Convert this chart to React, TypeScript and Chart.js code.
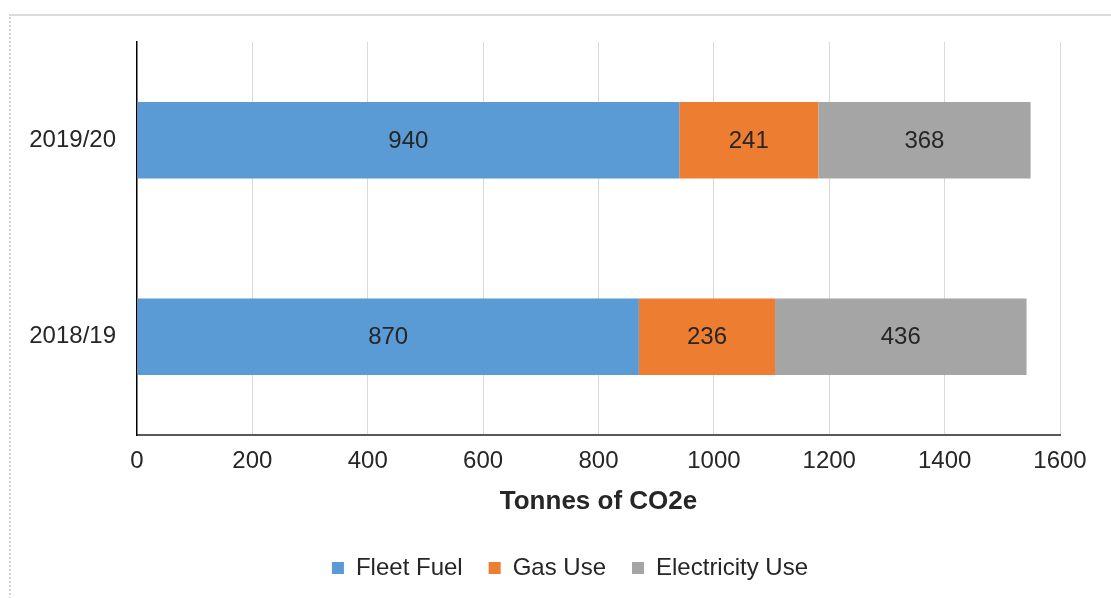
import React, { useEffect, useRef } from "react";
import { Chart, registerables } from "chart.js";

Chart.register(...registerables);

const categories = ["2019/20", "2018/19"];
const fleetFuel = [940, 870];
const gasUse = [241, 236];
const electricityUse = [368, 436];
const seriesNames = ["Fleet Fuel", "Gas Use", "Electricity Use"];
const xTicks = [0, 200, 400, 600, 800, 1000, 1200, 1400, 1600];
const axisTitle = "Tonnes of CO2e";

const FONT = "'Liberation Sans', Arial, sans-serif";

const barLabelPlugin = {
  id: "barLabels",
  afterDatasetsDraw(chart: any) {
    const ctx = chart.ctx;
    ctx.save();
    ctx.font = `24px ${FONT}`;
    ctx.fillStyle = "#262626";
    ctx.textAlign = "center";
    ctx.textBaseline = "middle";
    chart.data.datasets.forEach((ds: any, di: number) => {
      const meta = chart.getDatasetMeta(di);
      meta.data.forEach((bar: any, i: number) => {
        const v = ds.data[i];
        const cx = (bar.x + bar.base) / 2;
        ctx.fillText(String(v), cx, bar.y + 1);
      });
    });
    ctx.restore();
  },
};

const legendShiftPlugin = {
  id: "legendShift",
  afterLayout(chart: any) {
    const lg = chart.legend;
    if (lg) {
      lg.left += 40;
      lg.right += 40;
    }
  },
};

export default function App() {
  const ref = useRef<HTMLCanvasElement | null>(null);

  useEffect(() => {
    document.body.style.margin = "0";
    document.body.style.overflow = "hidden";
    const canvas = ref.current;
    if (!canvas) return;
    const chart = new Chart(canvas, {
      type: "bar",
      data: {
        labels: categories,
        datasets: [
          { label: seriesNames[0], data: fleetFuel, backgroundColor: "#5b9bd5" },
          { label: seriesNames[1], data: gasUse, backgroundColor: "#ed7d31" },
          { label: seriesNames[2], data: electricityUse, backgroundColor: "#a5a5a5" },
        ],
      },
      options: {
        indexAxis: "y",
        responsive: false,
        animation: false,
        devicePixelRatio: 1,
        layout: { padding: { top: 42, right: 51, left: 0, bottom: 8 } },
        datasets: {
          bar: { categoryPercentage: 1, barPercentage: 0.39, borderWidth: 0 },
        },
        scales: {
          x: {
            stacked: true,
            min: 0,
            max: 1600,
            afterBuildTicks(scale: any) {
              scale.ticks = xTicks.map((v) => ({ value: v }));
            },
            afterFit(scale: any) {
              scale.height = 95;
            },
            ticks: {
              padding: 12,
              color: "#262626",
              font: { family: FONT, size: 24 },
              callback: (v: any) => String(v),
            },
            grid: {
              color: (c: any) => (c.tick && c.tick.value === 0 ? "rgba(0,0,0,0)" : "#d9d9d9"),
              lineWidth: 1,
              drawTicks: false,
            },
            border: { display: true, color: "#595959", width: 2 },
            title: {
              display: true,
              text: axisTitle,
              color: "#262626",
              font: { family: FONT, size: 26, weight: "bold" },
              padding: { top: 0, bottom: 13 },
            },
          },
          y: {
            stacked: true,
            afterFit(scale: any) {
              scale.width = 137;
            },
            ticks: {
              padding: 21,
              color: "#262626",
              font: { family: FONT, size: 24 },
            },
            grid: { display: false, drawTicks: false },
            border: { display: true, color: "#000000", width: 1.5 },
          },
        },
        plugins: {
          legend: {
            position: "bottom",
            labels: {
              boxWidth: 12,
              boxHeight: 12,
              padding: 26,
              color: "#262626",
              font: { family: FONT, size: 24 },
            },
          },
          tooltip: { enabled: false },
        },
      },
      plugins: [barLabelPlugin, legendShiftPlugin],
    } as any);
    return () => chart.destroy();
  }, []);

  return (
    <div style={{ position: "relative", width: 1111, height: 598, overflow: "hidden", background: "#fff" }}>
      <div
        style={{
          position: "absolute",
          left: 9,
          top: 14,
          width: 1200,
          height: 700,
          borderTop: "2px solid #dcdcdc",
          borderLeft: "2px dotted #d4d4d4",
          boxSizing: "border-box",
        }}
      />
      <canvas ref={ref} width={1111} height={598} style={{ position: "absolute", left: 0, top: 0 }} />
    </div>
  );
}
